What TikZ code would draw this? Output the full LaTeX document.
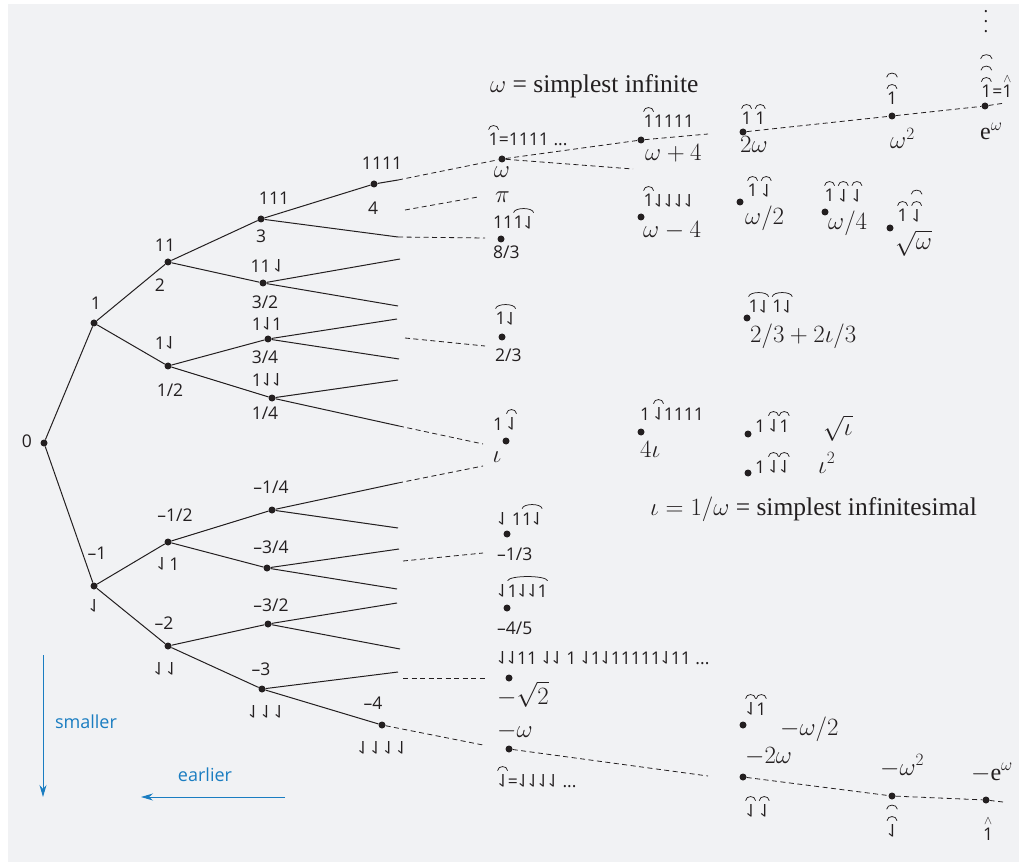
\documentclass[tikz,border=0pt]{standalone}
\usepackage{amsmath}
\usepackage{graphicx}
\usepackage{fontspec}
\usetikzlibrary{arrows.meta}
\setmainfont{Liberation Serif}
\setsansfont{Open Sans}
\definecolor{bg}{HTML}{F1F2F4}
\definecolor{ink}{HTML}{231F20}
\definecolor{arrowblue}{HTML}{1A7DC1}
% flipped one, and an arc over a group of digits
\newcommand\dn{\reflectbox{\rotatebox[origin=c]{180}{1}}}
\newlength\arcwd
\newcommand\ov[1]{\settowidth\arcwd{#1}\ensuremath{\overset{\tikz\draw[line width=0.75pt] (0pt,0pt) .. controls (0.05\arcwd,5.5pt) and (0.95\arcwd,5.5pt) .. (\arcwd,0pt);}{\text{#1}}}}
\newcommand\hatone{\ensuremath{\overset{\wedge}{\text{1}}}}

\begin{document}
\begin{tikzpicture}[x=1pt, y=-1pt, >=stealth,
    dot/.style={circle, fill=ink, inner sep=0pt, minimum size=7pt},
    lab/.style={font=\sffamily\fontsize{17.5}{20}\selectfont, text=ink, inner sep=0pt},
    mth/.style={font=\fontsize{24}{28}\selectfont, text=ink, inner sep=0pt},
    ttl/.style={font=\fontsize{25.5}{30}\selectfont, text=ink, inner sep=0pt},
    edge/.style={draw=ink, line width=1pt},
    dashline/.style={draw=ink, line width=0.8pt, dash pattern=on 5pt off 3.5pt},
    blue/.style={font=\sffamily\fontsize{18}{21}\selectfont, text=arrowblue, inner sep=0pt}]
    \useasboundingbox (0,0) rectangle (1025,866);
    \fill[white] (0,0) rectangle (1025,866);
    \fill[bg] (8,4) rectangle (1019,862);

    % tree
    \node[dot] (n0) at (44,443) {};
    \node[dot] (n1) at (94,323) {};
    \node[dot] (nm1) at (94,586) {};
    \node[dot] (n2) at (168,262) {};
    \node[dot] (nh) at (168,366) {};
    \node[dot] (nmh) at (168,542) {};
    \node[dot] (nm2) at (168,646) {};
    \node[dot] (n3) at (261,219) {};
    \node[dot] (n32) at (263,283) {};
    \node[dot] (n34) at (268,339) {};
    \node[dot] (n14) at (272,398) {};
    \node[dot] (nm14) at (272,510) {};
    \node[dot] (nm34) at (267,568) {};
    \node[dot] (nm32) at (268,624) {};
    \node[dot] (nm3) at (262,689) {};
    \node[dot] (n4) at (374,184) {};
    \node[dot] (nm4) at (382,725) {};

    \coordinate (e4) at (398,180);
    \coordinate (e3) at (398,237);
    \coordinate (e32a) at (400,259);
    \coordinate (e32b) at (398,306);
    \coordinate (e34a) at (397,319);
    \coordinate (e34b) at (399,359);
    \coordinate (e14a) at (398,380);
    \coordinate (e14b) at (399,426);
    \coordinate (f14a) at (398,483);
    \coordinate (f14b) at (398,528);
    \coordinate (f34a) at (399,549);
    \coordinate (f34b) at (397,589);
    \coordinate (f32a) at (397,603);
    \coordinate (f32b) at (400,649);
    \coordinate (f3a) at (398,672);

    \draw[edge] (n0) -- (n1) (n0) -- (nm1);
    \draw[edge] (n1) -- (n2) (n1) -- (nh) (nm1) -- (nmh) (nm1) -- (nm2);
    \draw[edge] (n2) -- (n3) (n2) -- (n32) (nh) -- (n34) (nh) -- (n14);
    \draw[edge] (nmh) -- (nm14) (nmh) -- (nm34) (nm2) -- (nm32) (nm2) -- (nm3);
    \draw[edge] (n3) -- (n4) (n4) -- (e4) (n3) -- (e3);
    \draw[edge] (n32) -- (e32a) (n32) -- (e32b) (n34) -- (e34a) (n34) -- (e34b);
    \draw[edge] (n14) -- (e14a) (n14) -- (e14b);
    \draw[edge] (nm14) -- (f14a) (nm14) -- (f14b) (nm34) -- (f34a) (nm34) -- (f34b);
    \draw[edge] (nm32) -- (f32a) (nm32) -- (f32b) (nm3) -- (f3a) (nm3) -- (nm4);

    % tree labels
    \node[lab] (t0) at (27,441) {0};
    \node[lab] (t1) at (96,303) {1};
    \node[lab] (tm1) at (97,553) {--1};
    \node[lab] (tm1b) at (94,606) {\dn};
    \node[lab] (t2) at (165,245) {11};
    \node[lab] (t2b) at (160,285) {2};
    \node[lab] (th) at (165,343) {1\dn};
    \node[lab] (thb) at (170,390) {1/2};
    \node[lab] (tmh) at (175,515) {--1/2};
    \node[lab] (tmhb) at (168,564) {\dn\,1};
    \node[lab] (tm2) at (164,623) {--2};
    \node[lab] (tm2b) at (165,669) {\dn\,\dn};
    \node[lab] (t3) at (274,198) {111};
    \node[lab] (t3b) at (261,236) {3};
    \node[lab] (t32) at (267,266) {11\,\dn};
    \node[lab] (t32b) at (265,302) {3/2};
    \node[lab] (t34) at (267,324) {1\dn1};
    \node[lab] (t34b) at (265,357) {3/4};
    \node[lab] (t14) at (267,380) {1\dn\dn};
    \node[lab] (t14b) at (265,413) {1/4};
    \node[lab] (tm14) at (271,487) {--1/4};
    \node[lab] (tm34) at (271,547) {--3/4};
    \node[lab] (tm32) at (271,605) {--3/2};
    \node[lab] (tm3) at (261,669) {--3};
    \node[lab] (tm3b) at (266,712) {\dn\,\dn\,\dn};
    \node[lab] (t4) at (382,163) {1111};
    \node[lab] (t4b) at (373,208) {4};
    \node[lab] (tm4) at (373,703) {--4};
    \node[lab] (tm4b) at (382,748) {\dn\,\dn\,\dn\,\dn};

    % infinite and infinitesimal values
    \node[dot] (w) at (502,159) {};
    \node[dot] (wp4) at (641,140) {};
    \node[dot] (w2x) at (743,132) {};
    \node[dot] (ww) at (892,116) {};
    \node[dot] (ew) at (985,106) {};
    \node[dot] (wm4) at (641,217) {};
    \node[dot] (e83) at (501,239) {};
    \node[dot] (wh) at (740,202) {};
    \node[dot] (wq) at (825,212) {};
    \node[dot] (sw) at (890,228) {};
    \node[dot] (r23) at (502,337) {};
    \node[dot] (r23i) at (747,318) {};
    \node[dot] (io) at (506,441) {};
    \node[dot] (i4) at (641,432) {};
    \node[dot] (si) at (748,434) {};
    \node[dot] (ii) at (748,473) {};
    \node[dot] (m13) at (507,534) {};
    \node[dot] (m45) at (507,608) {};
    \node[dot] (ms2) at (509,678) {};
    \node[dot] (mw) at (509,749) {};
    \node[dot] (mwh) at (743,725) {};
    \node[dot] (m2w) at (743,777) {};
    \node[dot] (mww) at (892,796) {};
    \node[dot] (mew) at (986,800) {};

    \coordinate (g1) at (708,134);
    \coordinate (g2) at (633,169);
    \coordinate (d4) at (405,210);
    \coordinate (g3) at (478,197);
    \coordinate (g4) at (485,238);
    \coordinate (d23) at (405,338);
    \coordinate (g5) at (485,346);
    \coordinate (g6) at (483,444);
    \coordinate (g7) at (483,466);
    \coordinate (d13) at (403,561);
    \coordinate (g8) at (483,553);
    \coordinate (d2) at (403,678);
    \coordinate (g9) at (485,678);
    \coordinate (g10) at (483,745);
    \coordinate (g11) at (708,776);
    \coordinate (g12) at (1003,802);
    \coordinate (g13) at (1005,103);

    \draw[dashline] (e4) -- (w) -- (wp4) -- (g1);
    \draw[dashline] (w) -- (g2);
    \draw[dashline] (w2x) -- (ww) -- (ew) -- (g13);
    \draw[dashline] (d4) -- (g3);
    \draw[dashline] (e3) -- (g4);
    \draw[dashline] (d23) -- (g5);
    \draw[dashline] (e14b) -- (g6);
    \draw[dashline] (f14a) -- (g7);
    \draw[dashline] (d13) -- (g8);
    \draw[dashline] (d2) -- (g9);
    \draw[dashline] (nm4) -- (g10);
    \draw[dashline] (mw) -- (g11);
    \draw[dashline] (m2w) -- (mww) -- (mew) -- (g12);

    \node[ttl, anchor=base west] (cw) at (490,93) {$\omega$ = simplest infinite};
    \node[lab, anchor=base west] (lw) at (488,146) {\ov{1}=1111 ...};
    \node[mth, anchor=base] (lwb) at (502,178) {$\omega$};
    \node[lab, anchor=base west] (lwp4) at (643,128) {\ov{1}1111};
    \node[mth, anchor=base west] (lwp4b) at (645,161) {$\omega+4$};
    \node[lab, anchor=base west] (l2w) at (741,125) {\ov{1}\,\ov{1}};
    \node[mth, anchor=base west] (l2wb) at (740,153) {$2\omega$};
    \node[lab, anchor=base] (lww) at (892,105) {\ov{\ov{1}}};
    \node[mth, anchor=base west] (lwwb) at (890,149) {$\omega^2$};
    \node[lab, anchor=base west] (lew) at (980,98) {\ov{\ov{\ov{1}}}=\hatone};
    \node[lab, align=center, font=\sffamily\fontsize{17.5}{10}\selectfont] (lewd) at (986,22) {.\\.\\.};
    \node[mth, anchor=base west] (lewb) at (980,140) {e$^\omega$};
    \node[lab, anchor=base west] (lwm4) at (643,207) {\ov{1}\dn\dn\dn\dn};
    \node[mth, anchor=base west] (lwm4b) at (643,238) {$\omega-4$};
    \node[mth, anchor=base west] (lpi) at (495,203) {$\pi$};
    \node[lab, anchor=base west] (l83) at (493,229) {11\ov{1\dn}};
    \node[lab, anchor=base west] (l83b) at (493,259) {8/3};
    \node[lab, anchor=base west] (lwh) at (747,197) {\ov{1}\,\ov{\dn}};
    \node[mth, anchor=base west] (lwhb) at (745,225) {$\omega/2$};
    \node[lab, anchor=base west] (lwq) at (824,202) {\ov{1}\,\ov{\dn}\,\ov{\dn}};
    \node[mth, anchor=base west] (lwqb) at (828,230) {$\omega/4$};
    \node[lab, anchor=base west] (lsw) at (897,222) {\ov{1}\,\ov{\ov{\dn}}};
    \node[mth, anchor=base west] (lswb) at (895,250) {$\sqrt{\omega}$};
    \node[lab, anchor=base west] (l23) at (495,325) {\ov{1\dn}};
    \node[lab, anchor=base west] (l23b) at (495,362) {2/3};
    \node[lab, anchor=base west] (l23i) at (748,313) {\ov{1\dn}\,\ov{1\dn}};
    \node[mth, anchor=base west] (l23ib) at (750,343) {$2/3+2\iota/3$};
    \node[lab, anchor=base west] (lio) at (493,430) {1\,\ov{\dn}};
    \node[mth, anchor=base] (liob) at (497,462) {$\iota$};
    \node[lab, anchor=base west] (li4) at (640,420) {1\,\ov{\dn}1111};
    \node[mth, anchor=base west] (li4b) at (640,457) {$4\iota$};
    \node[lab, anchor=base west] (lsi) at (755,432) {1\,\ov{\dn}\ov{1}};
    \node[mth, anchor=base west] (lsib) at (823,435) {$\sqrt{\iota}$};
    \node[lab, anchor=base west] (lii) at (755,473) {1\,\ov{\dn}\ov{\dn}};
    \node[mth, anchor=base west] (liib) at (818,473) {$\iota^2$};
    \node[ttl, anchor=base west] (ci) at (650,515) {$\iota=1/\omega$ = simplest infinitesimal};
    \node[lab, anchor=base west] (l13) at (497,525) {\dn\ 1\ov{1\dn}};
    \node[lab, anchor=base west] (l13b) at (497,560) {--1/3};
    \node[lab, anchor=base west] (l45) at (497,597) {\dn\ov{1\dn\dn1}};
    \node[lab, anchor=base west] (l45b) at (497,634) {--4/5};
    \node[lab, anchor=base west] (ls2) at (497,664) {\dn\dn11 \dn\dn\ 1 \dn1\dn11111\dn11 ...};
    \node[mth, anchor=base west] (ls2b) at (497,704) {$-\sqrt{2}$};
    \node[mth, anchor=base west] (lmw) at (497,737) {$-\omega$};
    \node[lab, anchor=base west] (lmwb) at (497,787) {\ov{\dn}=\dn\dn\dn\dn\ ...};
    \node[lab, anchor=base west] (lmwh) at (745,715) {\ov{\dn}\ov{1}};
    \node[mth, anchor=base west] (lmwhb) at (780,735) {$-\omega/2$};
    \node[mth, anchor=base west] (lm2w) at (745,763) {$-2\omega$};
    \node[lab, anchor=base west] (lm2wb) at (745,817) {\ov{\dn}\,\ov{\dn}};
    \node[mth, anchor=base west] (lmww) at (880,775) {$-\omega^2$};
    \node[lab, anchor=base] (lmwwb) at (892,837) {\ov{\ov{\dn}}};
    \node[mth, anchor=base west] (lmew) at (971,780) {$-$e$^\omega$};
    \node[lab, anchor=base] (lmewb) at (988,840) {\hatone};

    % direction arrows
    \coordinate (sa) at (43,655);
    \coordinate (sb) at (43,797);
    \coordinate (ea) at (285,797);
    \coordinate (eb) at (141,797);
    \draw[-{Stealth[length=12pt,width=7pt]}, arrowblue, line width=1pt] (sa) -- (sb);
    \draw[-{Stealth[length=12pt,width=7pt]}, arrowblue, line width=1pt] (ea) -- (eb);
    \node[blue] (smaller) at (86,722) {smaller};
    \node[blue] (earlier) at (205,775) {earlier};
\end{tikzpicture}
\end{document}
